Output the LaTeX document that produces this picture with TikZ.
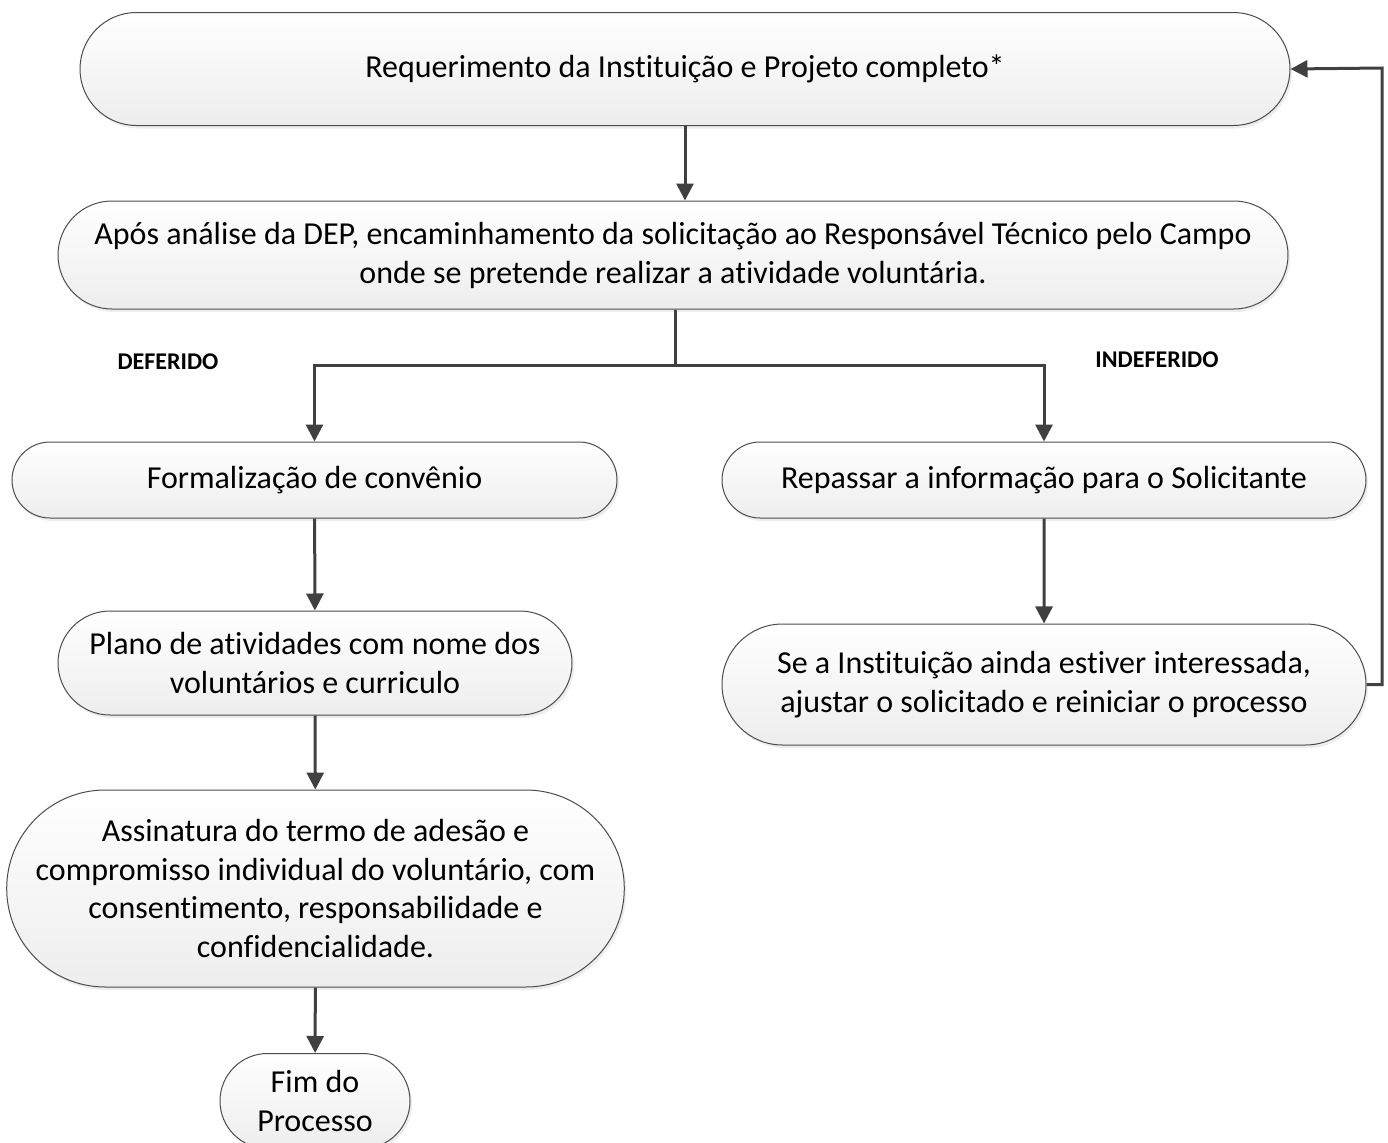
\documentclass[tikz,border=0pt]{standalone}
\usepackage{fontspec}
\setmainfont{Carlito}[Ligatures={NoCommon,NoRequired,NoContextual}, Contextuals=NoAlternate]
\usetikzlibrary{shapes.misc,shadows,arrows.meta}
\definecolor{linegray}{HTML}{404040}
\begin{document}
\begin{tikzpicture}[x=0.5pt, y=-0.5pt,
		main/.style = {rounded rectangle, draw=black!70, line width=0.5pt, top color=white, bottom color=black!7, drop shadow={shadow xshift=1pt, shadow yshift=-1.5pt, fill=black!14}, inner sep=0pt, align=center, font=\fontsize{16}{19.5}\selectfont},
		arr/.style = {draw=linegray, line width=1.5pt, -{Triangle[length=8.5pt,width=8.5pt]}},
		lbl/.style = {font=\fontsize{12}{14}\selectfont\bfseries}]
		\useasboundingbox (0,0) rectangle (1388,1142);
		\node[main, minimum width=605pt, minimum height=56.5pt] (1) at (685,69) {Requerimento da Instituição e Projeto completo*};
		\node[main, minimum width=615pt, minimum height=54pt] (2) at (673,255) {Após análise da DEP, encaminhamento da solicitação ao Responsável Técnico pelo Campo\\onde se pretende realizar a atividade voluntária.};
		\node[main, minimum width=302.5pt, minimum height=38pt] (3) at (314.5,480) {Formalização de convênio};
		\node[main, minimum width=322pt, minimum height=38pt] (4) at (1044,480) {Repassar a informação para o Solicitante};
		\node[main, minimum width=257pt, minimum height=52pt] (5) at (315,663) {Plano de atividades com nome dos\\voluntários e curriculo};
		\node[main, minimum width=322pt, minimum height=60.5pt] (6) at (1044,684.5) {Se a Instituição ainda estiver interessada,\\ajustar o solicitado e reiniciar o processo};
		\node[main, minimum width=305.5pt, minimum height=98.5pt] (7) at (315.5,888.5) {Assinatura do termo de adesão e\\compromisso individual do voluntário, com\\consentimento, responsabilidade e\\confidencialidade.};
		\node[main, minimum width=95pt, minimum height=47.5pt] (8) at (315,1101) {Fim do\\Processo};
		\node[lbl] (def) at (168,362) {DEFERIDO};
		\node[lbl] (indef) at (1157,360) {INDEFERIDO};
		\coordinate (split) at (675,365);
		\coordinate (ret) at (1382,68);
		\draw[arr] (1.south) -- (1.south |- 2.north);
		\draw[draw=linegray, line width=1.5pt] (2.south -| split) -- (split);
		\draw[arr] (split) -| (3.north);
		\draw[arr] (split) -| (4.north);
		\draw[arr] (3) -- (5);
		\draw[arr] (5) -- (7);
		\draw[arr] (7) -- (8);
		\draw[arr] (4) -- (6);
		\draw[arr] (6.east) -| (ret) -- (1.east);
	\end{tikzpicture}
\end{document}
